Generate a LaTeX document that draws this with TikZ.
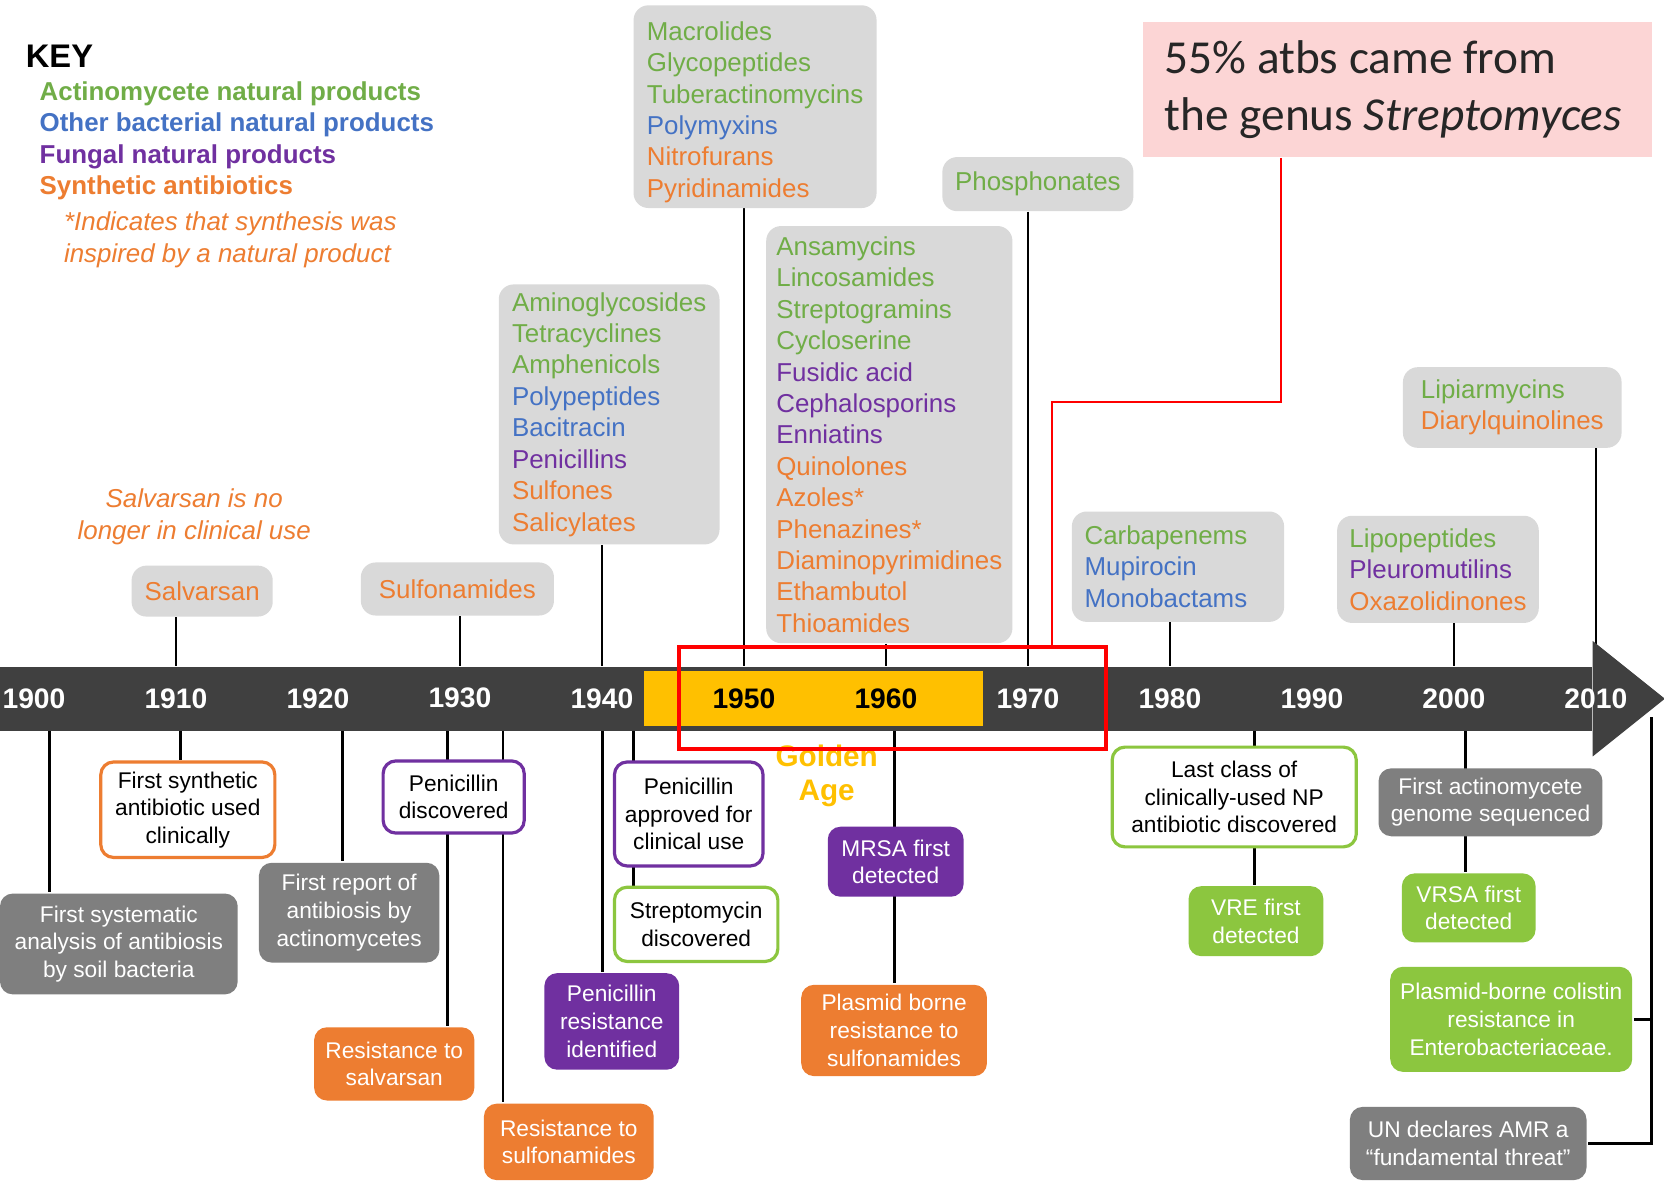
\documentclass[tikz,border=0pt]{standalone}
\usepackage{fontspec}
\setmainfont{Liberation Sans}
\newfontfamily\calloutface{Carlito}
\usepackage{tikz}
\usetikzlibrary{positioning,calc,backgrounds}
\usepackage{xcolor}
\definecolor{actgreen}{HTML}{70AD47}
\definecolor{othblue}{HTML}{4472C4}
\definecolor{fungpurple}{HTML}{7030A0}
\definecolor{synorange}{HTML}{ED7D31}
\definecolor{classgray}{HTML}{D9D9D9}
\definecolor{eventgray}{HTML}{7F7F7F}
\definecolor{bargray}{HTML}{404040}
\definecolor{goldyellow}{HTML}{FFC000}
\definecolor{eventgreen}{HTML}{8CC63F}
\definecolor{calloutpink}{HTML}{FCD5D5}
\newcommand{\act}[1]{\textcolor{actgreen}{#1}}
\newcommand{\oth}[1]{\textcolor{othblue}{#1}}
\newcommand{\fng}[1]{\textcolor{fungpurple}{#1}}
\newcommand{\syn}[1]{\textcolor{synorange}{#1}}
\tikzset{
  classbox/.style={rounded corners=7pt, fill=classgray, align=left, inner sep=0pt, font=\fontsize{12.2}{14.8}\selectfont},
  eventbox/.style={rounded corners=6pt, align=center, inner sep=0pt, line width=1.5pt, font=\fontsize{10.7}{13}\selectfont},
  openbox/.style={eventbox, fill=white, text=black},
  fillbox/.style={eventbox, text=white},
  yearlbl/.style={inner sep=0pt, font=\bfseries\fontsize{13.3}{14}\selectfont},
  tick/.style={line width=1.3pt, draw=black},
  keyline/.style={anchor=west, align=left, inner sep=0pt, font=\bfseries\fontsize{12.2}{14.8}\selectfont},
  calloutline/.style={draw=red, line width=0.7pt}
}

\begin{document}
\begin{tikzpicture}[x=0.5pt, y=-0.5pt]
  \begin{scope}[on background layer]
    \fill[white] (0,0) rectangle (1568,1114);
  \end{scope}
  \useasboundingbox (0,0) rectangle (1568,1114);

  \node[anchor=west, inner sep=0pt, font=\bfseries\fontsize{15.4}{16}\selectfont] (key) at (24,53) {KEY};
  \node[keyline] (keylist) at (37,132.5) {\act{Actinomycete natural products}\\\oth{Other bacterial natural products}\\\fng{Fungal natural products}\\\syn{Synthetic antibiotics}};
  \node[anchor=west, align=left, inner sep=0pt, text=synorange, font=\itshape\fontsize{12.2}{15}\selectfont] (keynote) at (60,226) {*Indicates that synthesis was\\inspired by a natural product};
  \node[align=center, inner sep=0pt, text=synorange, font=\itshape\fontsize{12.2}{15}\selectfont] (salvnote) at (183,487) {Salvarsan is no\\longer in clinical use};

  \node[fill=bargray, minimum width=750pt, minimum height=30pt, inner sep=0pt, anchor=north west] (axis) at (0,628) {};
  \fill[bargray] ([yshift=12pt]axis.north east) -- ([xshift=34pt]axis.east) -- ([yshift=-12pt]axis.south east) -- cycle;
  \node[fill=goldyellow, minimum width=160pt, minimum height=26pt, inner sep=0pt, anchor=north west] (golden) at (606,632) {};
  \foreach \yr/\yc [count=\i from 0] in {1900/white,1910/white,1920/white,1930/white,1940/white,1950/black,1960/black,1970/white,1980/white,1990/white,2000/white,2010/white}
    \node[yearlbl, text=\yc] (y\yr) at ({32+133.8*\i},658) {\yr};

  \node[classbox, minimum width=66.5pt, minimum height=24pt] (salv) at (190.5,557) {\syn{Salvarsan}};
  \node[classbox, minimum width=91pt, minimum height=25pt] (sulf) at (431,555) {\syn{Sulfonamides}};
  \node[classbox, minimum width=104pt, minimum height=122.5pt] (amino) at (574,390.5) {\act{Aminoglycosides}\\\act{Tetracyclines}\\\act{Amphenicols}\\\oth{Polypeptides}\\\oth{Bacitracin}\\\fng{Penicillins}\\\syn{Sulfones}\\\syn{Salicylates}};
  \node[classbox, minimum width=114.5pt, minimum height=95.5pt, text height=88pt] (macro) at (711.5,100.5) {\act{Macrolides}\\\act{Glycopeptides}\\\act{Tuberactinomycins}\\\oth{Polymyxins}\\\syn{Nitrofurans}\\\syn{Pyridinamides}};
  \node[classbox, minimum width=116pt, minimum height=196.5pt] (ansa) at (838,409.5) {\act{Ansamycins}\\\act{Lincosamides}\\\act{Streptogramins}\\\act{Cycloserine}\\\fng{Fusidic acid}\\\fng{Cephalosporins}\\\fng{Enniatins}\\\syn{Quinolones}\\\syn{Azoles*}\\\syn{Phenazines*}\\\syn{Diaminopyrimidines}\\\syn{Ethambutol}\\\syn{Thioamides}};
  \node[classbox, minimum width=90pt, minimum height=25.5pt] (phos) at (978,173.5) {\act{Phosphonates}};
  \node[classbox, text width=88pt, minimum width=100pt, minimum height=52pt] (carba) at (1110,534) {\act{Carbapenems}\\\oth{Mupirocin}\\\oth{Monobactams}};
  \node[classbox, minimum width=95pt, minimum height=50.5pt] (lipo) at (1355,536.5) {\act{Lipopeptides}\\\fng{Pleuromutilins}\\\syn{Oxazolidinones}};
  \node[classbox, minimum width=103pt, minimum height=38pt] (lipiar) at (1425,384) {\act{Lipiarmycins}\\\syn{Diarylquinolines}};

  \node[openbox, draw=synorange, minimum width=82pt, minimum height=45pt] (synuse) at (177,763) {First synthetic\\antibiotic used\\clinically};
  \node[fillbox, fill=eventgray, minimum width=112pt, minimum height=47.5pt] (soil) at (112,889.5) {First systematic\\analysis of antibiosis\\by soil bacteria};
  \node[fillbox, fill=eventgray, minimum width=85pt, minimum height=47pt] (actrep) at (329,860) {First report of\\antibiosis by\\actinomycetes};
  \node[openbox, draw=fungpurple, minimum width=66.5pt, minimum height=34pt] (pendisc) at (427.5,751) {Penicillin\\discovered};
  \node[fillbox, fill=synorange, minimum width=75.5pt, minimum height=34.5pt] (ressalv) at (371.5,1002.5) {Resistance to\\salvarsan};
  \node[fillbox, fill=synorange, minimum width=80pt, minimum height=36pt] (ressulf) at (536,1076) {Resistance to\\sulfonamides};
  \node[openbox, draw=fungpurple, minimum width=70pt, minimum height=49pt] (penappr) at (649,767) {Penicillin\\approved for\\clinical use};
  \node[openbox, draw=eventgreen, minimum width=77pt, minimum height=35pt] (strep) at (656,871) {Streptomycin\\discovered};
  \node[fillbox, fill=fungpurple, minimum width=63.5pt, minimum height=45.5pt] (penres) at (576.5,962.5) {Penicillin\\resistance\\identified};
  \node[fillbox, fill=fungpurple, minimum width=64pt, minimum height=33pt] (mrsa) at (844,812) {MRSA first\\detected};
  \node[fillbox, fill=synorange, minimum width=87.5pt, minimum height=43pt] (plasm) at (842.5,971) {Plasmid borne\\resistance to\\sulfonamides};
  \node[openbox, draw=eventgreen, minimum width=115pt, minimum height=47pt] (lastnp) at (1163,751) {Last class of\\clinically-used NP\\antibiotic discovered};
  \node[fillbox, fill=eventgreen, minimum width=63.5pt, minimum height=33pt] (vre) at (1183.5,868) {VRE first\\detected};
  \node[fillbox, fill=eventgray, minimum width=105.5pt, minimum height=32pt] (genome) at (1404.5,756) {First actinomycete\\genome sequenced};
  \node[fillbox, fill=eventgreen, minimum width=63pt, minimum height=32.5pt] (vrsa) at (1384,855.5) {VRSA first\\detected};
  \node[fillbox, fill=eventgreen, minimum width=114pt, minimum height=49.5pt] (colis) at (1424,960.5) {Plasmid-borne colistin\\resistance in\\Enterobacteriaceae.};
  \node[fillbox, fill=eventgray, minimum width=111.5pt, minimum height=34.5pt] (undecl) at (1383.5,1077.5) {UN declares AMR a\\“fundamental threat”};

  \node[align=center, inner sep=0pt, text=goldyellow, font=\bfseries\fontsize{14}{16}\selectfont] (gage) at (779,731) {Golden\\Age};
  \node[draw=red, line width=2pt, minimum width=201pt, minimum height=48pt, inner sep=0pt, anchor=north west] (goldfr) at (638,608) {};

  \node[fill=calloutpink, minimum width=239.5pt, minimum height=64pt, inner sep=0pt, anchor=north west] (callout) at (1077,20) {};
  \node[anchor=west, align=left, inner sep=0pt, text=black!85, font=\calloutface\fontsize{22.3}{27}\selectfont] (calltext) at ([xshift=10pt]callout.west) {55\% atbs came from\\the genus \textit{Streptomyces}};
  \coordinate (cfoot) at ($(callout.south west)!0.271!(callout.south east)$);
  \coordinate (ctop) at ($(goldfr.north west)!0.87!(goldfr.north east)$);
  \draw[calloutline] (cfoot) -- ++(0,230) -| (ctop);

  \foreach \n/\x in {s/47, c/170, r/323, p/422, q/474, f/568, a/597, m/843, l/1182, g/1381}
    \coordinate (b\n) at (\x,688);
  \coordinate (brk) at (1556,676);
  \begin{scope}[on background layer]
    \draw[tick] (y1910 |- salv.south) -- (y1910 |- axis.north);
    \draw[tick] (y1930 |- sulf.south) -- (y1930 |- axis.north);
    \draw[tick] (y1940 |- amino.south) -- (y1940 |- axis.north);
    \draw[tick] (y1950 |- macro.south) -- (y1950 |- axis.north);
    \draw[tick] (y1960 |- ansa.south) -- (y1960 |- axis.north);
    \draw[tick] (y1970 |- phos.south) -- (y1970 |- axis.north);
    \draw[tick] (y1980 |- carba.south) -- (y1980 |- axis.north);
    \draw[tick] (y2000 |- lipo.south) -- (y2000 |- axis.north);
    \draw[tick] (y2010 |- lipiar.south) -- (y2010 |- axis.north);
    \draw[tick] (bs) -- (bs |- soil.north);
    \draw[tick] (bc) -- (bc |- synuse.north);
    \draw[tick] (br) -- (br |- actrep.north);
    \draw[tick] (bp) -- (bp |- ressalv.north);
    \draw[tick] (bq) -- (bq |- ressulf.north);
    \draw[tick] (bf) -- (bf |- penres.north);
    \draw[tick] (ba) -- (ba |- strep.north);
    \draw[tick] (bm) -- (bm |- plasm.north);
    \draw[tick] (bl) -- (bl |- vre.north);
    \draw[tick] (bg) -- (bg |- vrsa.north);
    \draw[tick] (brk) |- (undecl.east);
    \draw[tick] (colis.east) -- (colis.east -| brk);
  \end{scope}
\end{tikzpicture}
\end{document}
